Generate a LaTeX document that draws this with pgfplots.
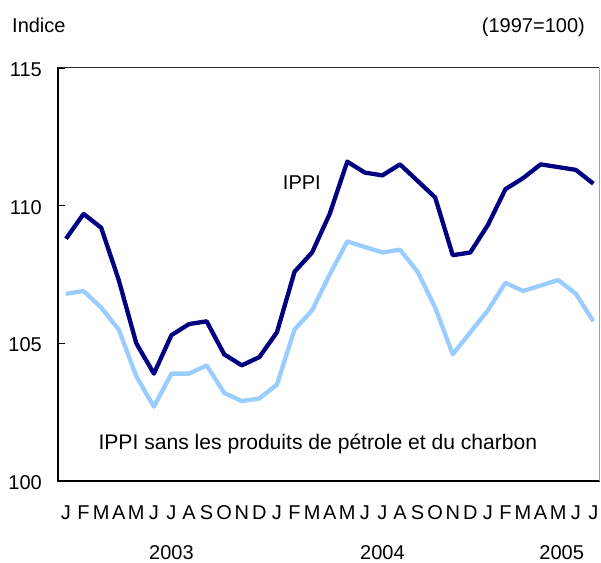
\documentclass[border=0pt]{standalone}
\usepackage{fontspec}
\setmainfont{Liberation Sans}
\usepackage{pgfplots}
\pgfplotsset{compat=1.18}
\usepackage{pgfplotstable}
\definecolor{navy}{RGB}{0,0,128}
\definecolor{lightb}{RGB}{153,204,255}
\newcommand\cf{\fontsize{20bp}{24bp}\selectfont}
\pgfplotstableread{
i ippi sans
0 108.8 106.8
1 109.7 106.9
2 109.2 106.3
3 107.3 105.5
4 105.0 103.8
5 103.9 102.7
6 105.3 103.9
7 105.7 103.9
8 105.8 104.2
9 104.6 103.2
10 104.2 102.9
11 104.5 103.0
12 105.4 103.5
13 107.6 105.5
14 108.3 106.2
15 109.7 107.5
16 111.6 108.7
17 111.2 108.5
18 111.1 108.3
19 111.5 108.4
20 110.9 107.6
21 110.3 106.3
22 108.2 104.6
23 108.3 105.4
24 109.3 106.2
25 110.6 107.2
26 111.0 106.9
27 111.5 107.1
28 111.4 107.3
29 111.3 106.8
30 110.8 105.8
}\datatable
\begin{document}
\begin{tikzpicture}
\useasboundingbox (-58bp,-82bp) rectangle (543bp,481bp);
\begin{axis}[
  at={(0,0)}, anchor=south west,
  scale only axis, width=541bp, height=413bp,
  xmin=-0.455, xmax=30.32, ymin=100, ymax=115,
  separate axis lines,
  axis x line*=bottom, axis y line*=left,
  axis line style={line width=2.7bp, line cap=rect},
  clip=false,
  font=\cf,
  /pgf/number format/assume math mode=true,
  tick align=inside,
  xtick={0,...,30},
  xticklabels={J,F,M,A,M,J,J,A,S,O,N,D,J,F,M,A,M,J,J,A,S,O,N,D,J,F,M,A,M,J,J},
  x tick style={draw=none},
  minor xtick={0.5,1.5,...,29.5},
  minor x tick style={line width=1.4bp, black},
  minor tick length=7bp,
  xticklabel style={anchor=base, inner sep=0pt, yshift=-38bp, font=\cf},
  ytick={100,105,110,115},
  y tick style={line width=1.6bp, black},
  major tick length=7bp,
  yticklabel style={anchor=east, inner sep=0pt, xshift=-16bp, yshift=-1.5bp, font=\cf},
]
\draw[line width=1bp, black!85] (rel axis cs:0,1) -- (rel axis cs:1,1);
\draw[line width=1bp, black!35] (rel axis cs:1,0) -- (rel axis cs:1,1);
\addplot[lightb, line width=4.3bp, line join=round] table[x=i, y=sans] {\datatable};
\addplot[navy, line width=4.3bp, line join=round] table[x=i, y=ippi] {\datatable};
\node[anchor=base west, inner sep=0pt] at (axis cs:12.33,110.57) {IPPI};
\node[anchor=base west, inner sep=0pt, font=\fontsize{21.1bp}{25bp}\selectfont] at (axis cs:1.84,101.15) {IPPI sans les produits de pétrole et du charbon};
\node[anchor=base, inner sep=0pt, yshift=-78bp] at (axis cs:6,100) {2003};
\node[anchor=base, inner sep=0pt, yshift=-78bp] at (axis cs:18,100) {2004};
\node[anchor=base, inner sep=0pt, yshift=-78bp] at (axis cs:28.2,100) {2005};
\node[anchor=base west, inner sep=0pt] at (rel axis cs:0,1) [xshift=-46bp, yshift=35bp] {Indice};
\node[anchor=base east, inner sep=0pt] at (rel axis cs:1,1) [xshift=-14bp, yshift=35bp] {(1997=100)};
\end{axis}
\end{tikzpicture}
\end{document}
